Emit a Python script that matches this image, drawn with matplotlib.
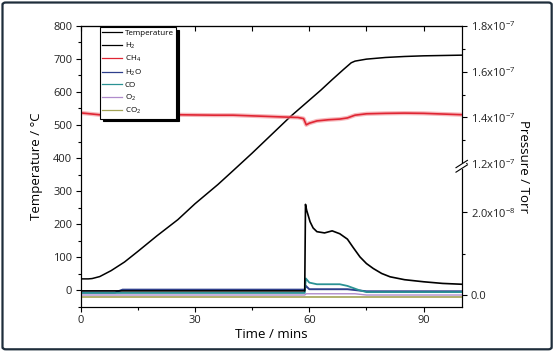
import numpy as np
import matplotlib
matplotlib.use("Agg")
import matplotlib.pyplot as plt
from matplotlib.patches import FancyBboxPatch

plt.rcParams["font.family"] = ["Open Sans", "DejaVu Sans"]
plt.rcParams["mathtext.default"] = "regular"

# temperature ramp (mins, degC)
temp_time = [0, 2, 3, 5, 8, 11.5, 15, 20, 25.5, 30, 36, 40, 45, 50, 55, 60,
             63, 66, 69, 71, 72, 75, 80, 85, 90, 95, 100]
temp_vals = [35, 35, 36, 42, 60, 86, 118, 165, 214, 262, 320, 362, 415, 470,
             525, 575, 605, 637, 668, 688, 693, 699, 704, 707, 709, 710, 711]

# partial pressures (Torr)
h2_time = [0, 10, 20, 30, 40, 50, 58.8, 59.0, 59.3, 60.2, 61.0, 62.0, 64.0,
           66.0, 68.0, 70.0, 71.5, 73.3, 75.0, 76.8, 79.0, 81.2, 85.0, 90.0,
           95.0, 100]
h2_vals = np.array([0.10, 0.10, 0.10, 0.10, 0.10, 0.10, 0.10, 2.19, 2.05,
                    1.77, 1.62, 1.53, 1.50, 1.55, 1.48, 1.35, 1.15, 0.92,
                    0.76, 0.64, 0.52, 0.44, 0.37, 0.32, 0.28, 0.26]) * 1e-8

ch4_time = [0, 3, 6, 10, 15, 20, 25, 30, 35, 40, 45, 50, 55, 57, 58.5, 59.2,
            60, 62, 65, 68, 70, 72, 75, 80, 85, 90, 95, 100]
ch4_vals = np.array([1.420, 1.415, 1.410, 1.410, 1.412, 1.413, 1.412, 1.411,
                     1.410, 1.410, 1.407, 1.404, 1.401, 1.400, 1.395, 1.368,
                     1.375, 1.385, 1.390, 1.393, 1.398, 1.410, 1.416, 1.418,
                     1.419, 1.418, 1.415, 1.412]) * 1e-7

h2o_time = [0, 9, 11, 58.8, 59.1, 60, 70, 75, 100]
h2o_vals = np.array([0.06, 0.06, 0.13, 0.13, 0.22, 0.14, 0.14, 0.09, 0.09]) * 1e-8

co_time = [0, 58.8, 59.1, 60, 62, 68, 70, 73, 75, 100]
co_vals = np.array([0.05, 0.05, 0.40, 0.30, 0.26, 0.26, 0.22, 0.12, 0.07, 0.07]) * 1e-8

o2_time = [0, 58.8, 59.2, 72, 75, 100]
o2_vals = np.array([0.0, 0.0, 0.03, 0.03, 0.0, 0.0]) * 1e-8

co2_time = [0, 100]
co2_vals = np.array([-0.05, -0.05]) * 1e-8

x_ticks = [0, 30, 60, 90]
x_minor = [15, 45, 75]
p_major = [0.0, 2e-8, 1.2e-7, 1.4e-7, 1.6e-7, 1.8e-7]
p_labels = ["0.0", "2.0x10$^{-8}$", "1.2x10$^{-7}$", "1.4x10$^{-7}$",
            "1.6x10$^{-7}$", "1.8x10$^{-7}$"]
p_minor = [1e-8, 1.3e-7, 1.5e-7, 1.7e-7]

# broken pressure axis: piecewise linear scale
P_KNOTS = np.array([-1e-6, 0.0, 3e-8, 1.2e-7, 1e-6])
U_KNOTS = np.array([12 - 1e-6 * 4.15e9, 12, 12 + 3e-8 * 4.15e9, 144,
                    144 + 8.8e-7 * 2.3e9])


def fwd(p):
    return np.interp(p, P_KNOTS, U_KNOTS)


def inv(u):
    return np.interp(u, U_KNOTS, P_KNOTS)


fig = plt.figure(figsize=(5.55, 3.59), dpi=100)
ax = fig.add_axes([0.1454, 0.1448, 0.6865, 0.7836])
ax2 = ax.twinx()

ln_t, = ax.plot(temp_time, temp_vals, color="black", lw=1.1, label="Temperature")
ax.set_xlim(0, 100)
ax.set_ylim(-50, 800)
ax.set_xticks(x_ticks)
ax.set_xticks(x_minor, minor=True)
ax.set_yticks(range(0, 801, 100))
ax.set_yticks(range(-50, 801, 100), minor=True)
ax.tick_params(which="major", direction="out", length=3.6, width=0.8,
               labelsize=8, labelcolor="#222222", pad=2.5)
ax.tick_params(which="minor", direction="out", length=2.2, width=0.8)
ax.set_xlabel("Time / mins", fontsize=9.5, labelpad=1)
ax.set_ylabel("Temperature / °C", fontsize=9.5, labelpad=7)

top = ax.secondary_xaxis("top")
top.set_xticks(x_ticks)
top.set_xticks(x_minor, minor=True)
top.tick_params(which="both", direction="in", length=3.6, width=0.8,
                labeltop=False)

ax2.set_yscale("function", functions=(fwd, inv))
ln_co2, = ax2.plot(co2_time, co2_vals, color="#a3a356", lw=1.2, label="CO$_2$")
ln_o2, = ax2.plot(o2_time, o2_vals, color="#b08ccc", lw=1.0, label="O$_2$")
ln_h2o, = ax2.plot(h2o_time, h2o_vals, color="#2e3f8c", lw=1.4, label="H$_2$O")
ln_co, = ax2.plot(co_time, co_vals, color="#2a9294", lw=1.3, label="CO")
ln_h2, = ax2.plot(h2_time, h2_vals, color="black", lw=1.2, label="H$_2$")
ax2.plot(ch4_time, ch4_vals, color="#f08a90", lw=3.0, alpha=0.6)
ln_ch4, = ax2.plot(ch4_time, ch4_vals, color="#e02533", lw=1.2, label="CH$_4$")
ax2.set_ylim(-2.9e-9, 1.8e-7)
ax2.set_yticks(p_major)
ax2.set_yticklabels(p_labels)
ax2.set_yticks(p_minor, minor=True)
ax2.tick_params(which="major", direction="out", length=3.6, width=0.8,
                labelsize=8, labelcolor="#222222", pad=3)
ax2.tick_params(which="minor", direction="out", length=2.2, width=0.8)
ax2.set_ylabel("Pressure / Torr", fontsize=9.5, rotation=270, labelpad=10)

# axis break marks on the right spine
lo, hi = fwd(-2.9e-9), fwd(1.8e-7)
yb = (fwd(8.5e-8) - lo) / (hi - lo)
ax2.fill([0.99, 1.01, 1.01, 0.99], [yb - 0.012, yb - 0.004, yb + 0.012, yb + 0.004],
         transform=ax2.transAxes, color="white", clip_on=False, zorder=5)
for dy in (-0.008, 0.008):
    ax2.plot([0.985, 1.015], [yb + dy - 0.013, yb + dy + 0.013],
             transform=ax2.transAxes, color="black", lw=0.8, clip_on=False,
             zorder=6)

handles = [ln_t, ln_h2, ln_ch4, ln_h2o, ln_co, ln_o2, ln_co2]
leg = ax2.legend(handles, [h.get_label() for h in handles], loc="upper left",
                 bbox_to_anchor=(0.05, 0.995), fontsize=5.8, frameon=True,
                 fancybox=False, edgecolor="black", framealpha=1,
                 borderpad=0.3, handlelength=2.5, handletextpad=0.3,
                 labelspacing=0.42, borderaxespad=0,
                 shadow={"color": "black", "alpha": 1})
leg.get_frame().set_linewidth(0.8)
for h in leg.legend_handles:
    h.set_linewidth(0.9)
    h.set_alpha(1)

fig.patches.append(FancyBboxPatch((0.0045, 0.027), 0.9895, 0.966,
                                  boxstyle="round,pad=0,rounding_size=0.006",
                                  transform=fig.transFigure, fill=False,
                                  edgecolor="#1e2d3b", lw=1.6))

fig.savefig("out.png", dpi=100)
